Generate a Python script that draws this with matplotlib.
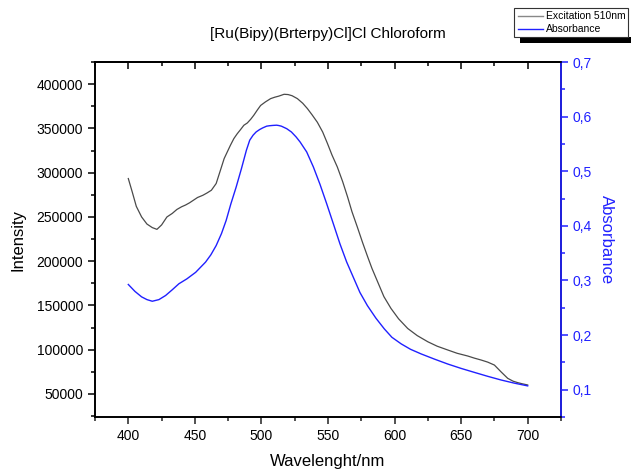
import matplotlib
matplotlib.use("Agg")
import matplotlib.pyplot as plt
from matplotlib.patches import Rectangle
from matplotlib.lines import Line2D
from matplotlib.ticker import MultipleLocator, FuncFormatter

plt.rcParams['font.family'] = ['Liberation Sans', 'DejaVu Sans']

# Excitation spectrum (emission monitored at 510 nm)
exc_nm = [400, 403, 406, 410, 414, 418, 421.5, 425, 429, 433, 436.5, 440, 443, 446,
          449, 452, 456, 459, 462.4, 466, 469.2, 472, 476.7, 479.3, 481.8, 484.3,
          486.8, 489.4, 492, 494.3, 497, 499.4, 503, 506.9, 510, 513, 517, 520, 523,
          527, 531, 534.5, 538, 542, 546, 549.6, 553, 557, 561, 564.7, 568, 572, 576,
          579.8, 583, 587.3, 592, 597.3, 603, 609.9, 617, 625, 632, 640, 647, 655,
          660, 665, 670, 675, 680, 685, 689, 692.6, 696, 700]
exc_int = [293400, 278000, 262000, 250000, 242000, 238000, 236000, 241000, 250000,
           254000, 258500, 261500, 263500, 266000, 269000, 272000, 274500, 277000,
           280200, 287800, 302800, 316000, 331000, 338600, 344000, 348700, 353600,
           356200, 360500, 365000, 371000, 376000, 380000, 383700, 385300, 386500,
           388600, 388300, 387000, 383700, 378500, 372500, 365500, 357000, 346000,
           333000, 320000, 306500, 290000, 272700, 256000, 238800, 221000, 205000,
           192000, 176700, 160000, 146700, 135000, 124000, 116000, 109000, 104000,
           99700, 96000, 92900, 90500, 88400, 86000, 82700, 75000, 67700, 64500,
           62800, 61500, 60200]

# UV-Vis absorbance
abs_nm = [400, 405, 410, 414, 418, 423, 428, 433, 438, 444, 450.6, 458, 462, 466,
          470, 473.5, 477, 481, 485, 488.7, 491.2, 493.7, 496, 498.7, 501, 503.9,
          506, 508.7, 511.4, 513, 515, 519, 522.5, 526, 529, 534, 539, 544, 549,
          554, 559, 564, 569, 574, 579.6, 586, 592.3, 598, 605, 612, 620, 630, 640,
          650, 660, 670, 680, 690, 700]
abs_val = [0.2927, 0.280, 0.270, 0.265, 0.262, 0.265, 0.2725, 0.283, 0.294, 0.303,
           0.315, 0.3336, 0.347, 0.364, 0.386, 0.410, 0.440, 0.471, 0.505, 0.5385,
           0.5569, 0.566, 0.572, 0.5765, 0.5795, 0.5826, 0.5834, 0.5840, 0.5844,
           0.5838, 0.5826, 0.578, 0.572, 0.563, 0.5538, 0.5354, 0.508, 0.476,
           0.4407, 0.404, 0.367, 0.334, 0.306, 0.278, 0.254, 0.231, 0.2114, 0.196,
           0.1839, 0.174, 0.1655, 0.156, 0.147, 0.139, 0.1317, 0.1245, 0.1178,
           0.112, 0.107]

x_ticks = [400, 450, 500, 550, 600, 650, 700]
left_ticks = [50000, 100000, 150000, 200000, 250000, 300000, 350000, 400000]
right_ticks = [0.1, 0.2, 0.3, 0.4, 0.5, 0.6, 0.7]

exc_color = '#4a4a4a'
abs_color = '#2020ff'

fig = plt.figure(figsize=(6.31, 4.72), dpi=100)
ax = fig.add_axes([0.1506, 0.1165, 0.7384, 0.752])
ax2 = ax.twinx()

ax.plot(exc_nm, exc_int, color=exc_color, lw=0.9)
ax2.plot(abs_nm, abs_val, color=abs_color, lw=1.0)

ax.set_xlim(375, 725)
ax.set_ylim(24000, 425000)
ax2.set_ylim(0.05, 0.7)

ax.set_xticks(x_ticks)
ax.xaxis.set_minor_locator(MultipleLocator(25))
ax.set_yticks(left_ticks)
ax.yaxis.set_minor_locator(MultipleLocator(25000))
ax2.set_yticks(right_ticks)
ax2.yaxis.set_minor_locator(MultipleLocator(0.05))
ax2.yaxis.set_major_formatter(FuncFormatter(lambda v, p: f"{v:.1f}".replace('.', ',')))

for a in (ax, ax2):
    for s in a.spines.values():
        s.set_linewidth(1.2)
ax2.spines['right'].set_color(abs_color)

ax.tick_params(axis='x', which='both', direction='out', top=False, labelsize=10,
               width=1.1, color='#222222')
ax.tick_params(axis='x', which='major', length=5)
ax.tick_params(axis='x', which='minor', length=3)
ax.tick_params(axis='y', which='both', direction='out', labelsize=10, width=1.1)
ax.tick_params(axis='y', which='major', length=5)
ax.tick_params(axis='y', which='minor', length=3)
ax2.tick_params(axis='y', which='both', direction='out', labelsize=10, width=1.1,
                colors=abs_color)
ax2.tick_params(axis='y', which='major', length=5)
ax2.tick_params(axis='y', which='minor', length=3)

# top axis with inward ticks and no labels
axt = ax.secondary_xaxis('top')
axt.set_xticks(x_ticks)
axt.xaxis.set_minor_locator(MultipleLocator(25))
axt.tick_params(axis='x', which='both', direction='in', labeltop=False, width=1.1)
axt.tick_params(axis='x', which='major', length=5)
axt.tick_params(axis='x', which='minor', length=3)
axt.spines['top'].set_linewidth(1.2)

ax.set_xlabel('Wavelenght/nm', fontsize=12, labelpad=8)
ax.set_ylabel('Intensity', fontsize=12, labelpad=8)
ax2.set_ylabel('Absorbance', fontsize=12, color=abs_color, rotation=270, labelpad=16)
ax.set_title('[Ru(Bipy)(Brterpy)Cl]Cl Chloroform', fontsize=11, pad=17)

# legend box with drop shadow
W, H = 631, 472
def fx(px):
    return px / W
def fy(py):
    return 1 - py / H

fig.patches.append(Rectangle((fx(520), fy(43)), fx(632) - fx(520), fy(37) - fy(43),
                             transform=fig.transFigure, facecolor='black',
                             edgecolor='none', zorder=5))
fig.patches.append(Rectangle((fx(514), fy(37)), fx(628) - fx(514), fy(8) - fy(37),
                             transform=fig.transFigure, facecolor='white',
                             edgecolor='#333333', lw=0.8, zorder=6))
fig.lines.append(Line2D([fx(518), fx(543)], [fy(16), fy(16)], transform=fig.transFigure,
                        color='#888888', lw=1.0, zorder=7))
fig.lines.append(Line2D([fx(518), fx(543)], [fy(29), fy(29)], transform=fig.transFigure,
                        color=abs_color, lw=1.0, zorder=7))
fig.text(fx(546), fy(16), 'Excitation 510nm', fontsize=7.5, va='center', ha='left',
         zorder=8)
fig.text(fx(546), fy(29), 'Absorbance', fontsize=7.5, va='center', ha='left', zorder=8)

fig.savefig('out.png', dpi=100)
